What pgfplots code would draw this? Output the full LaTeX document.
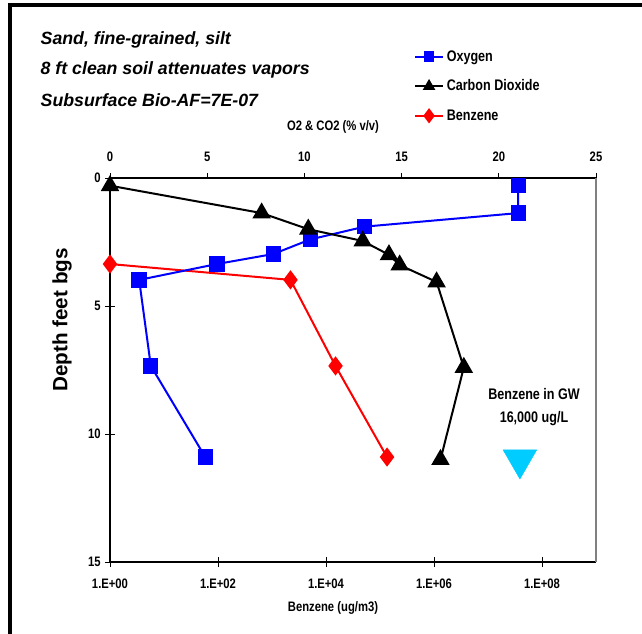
\documentclass[border=0pt]{standalone}
\usepackage{pgfplots}
\pgfplotsset{compat=1.18}
\usepackage{fontspec}
\setmainfont{Liberation Sans}
\newfontfamily\narrow[FakeStretch=0.82]{Liberation Sans}
\definecolor{gwcyan}{RGB}{0,204,255}
\begin{document}
\begin{tikzpicture}[x=0.75pt,y=-0.75pt]
\clip (0,0) rectangle (642,634);
\fill[white] (0,0) rectangle (642,634);
\coordinate (O) at (110,562);
% main axis: benzene (log, bottom)
\begin{axis}[
  at={(O)}, anchor=south west, scale only axis,
  width=364.5pt, height=288pt,
  xmode=log, xmin=1, xmax=1e9, ymin=0, ymax=15, y dir=reverse,
  xtick={1,1e2,1e4,1e6,1e8},
  xticklabels={1.E+00,1.E+02,1.E+04,1.E+06,1.E+08},
  minor xtick={}, ytick={0,5,10,15},
  axis x line*=bottom, axis y line*=left, axis line style={-, line width=0.8pt},
  tick align=center, major tick length=7pt, tick style={black, line width=0.6pt},
  ticklabel style={font=\narrow\bfseries\fontsize{10.3}{12}\selectfont},
  xticklabel style={yshift=-6pt},
  /pgf/number format/assume math mode=true,
  clip=false,
]
\addplot[red, line width=1.5pt, mark=diamond*, mark size=6pt, mark options={solid}]
  coordinates {(1,3.36) (2200,3.98) (15000,7.34) (135000,10.9)};
\addplot[only marks, mark=triangle*, mark size=14.5pt, color=gwcyan, mark options={rotate=180}]
  coordinates {(3.9e7,11.0)};
\end{axis}
% top axis: O2 & CO2
\begin{axis}[
  at={(O)}, anchor=south west, scale only axis,
  width=364.5pt, height=288pt,
  xmin=0, xmax=25, ymin=0, ymax=15, y dir=reverse,
  xtick={0,5,10,15,20,25},
  axis x line*=top, axis y line=none, axis line style={-, line width=0.8pt},
  tick align=outside, major tick length=3.5pt, tick style={black, line width=0.6pt},
  ticklabel style={font=\narrow\bfseries\fontsize{10.3}{12}\selectfont},
  xticklabel style={yshift=5pt},
  /pgf/number format/assume math mode=true,
  clip=false,
  legend style={at={(0.625,1.34)}, anchor=north west, draw=none, fill=none,
    font=\narrow\bfseries\fontsize{11.5}{13}\selectfont, row sep=8.5pt,
    inner xsep=0pt, inner ysep=0pt},
  legend cell align=left,
  legend image code/.code={\draw[mark repeat=2,mark phase=2,#1] plot coordinates {(0cm,0cm) (0.37cm,0cm) (0.74cm,0cm)};},
]
\addplot[blue, line width=1.5pt, mark=square*, mark size=5pt, mark options={solid},
  legend image post style={mark size=3.3pt}]
  coordinates {(21.0,0.3) (21.0,1.37) (13.1,1.9) (10.3,2.4) (8.4,2.97) (5.5,3.36) (1.5,3.98) (2.1,7.34) (4.9,10.9)};
\addlegendentry{Oxygen}
\addplot[black, line width=1.5pt, mark=triangle*, mark size=6.5pt, mark options={solid},
  legend image post style={mark size=4pt}]
  coordinates {(0,0.3) (7.8,1.37) (10.2,2.0) (13.0,2.46) (14.35,3.0) (14.9,3.4) (16.8,4.06) (18.2,7.4) (17.0,11.0)};
\addlegendentry{Carbon Dioxide}
\addlegendimage{red, line width=1.5pt, mark=diamond*, mark size=4.5pt}
\addlegendentry{Benzene}
\end{axis}
\draw[gray, line width=0.8pt] (596,178) -- (596,562);
\node[anchor=west, font=\bfseries\itshape\fontsize{13.3}{15}\selectfont] at (36,40) {Sand, fine-grained, silt};
\node[anchor=west, font=\bfseries\itshape\fontsize{13.3}{15}\selectfont] at (36,70) {8 ft clean soil attenuates vapors};
\node[anchor=west, font=\bfseries\itshape\fontsize{13.3}{15}\selectfont] at (36,100) {Subsurface Bio-AF=7E-07};
\node[font=\narrow\bfseries\fontsize{10.3}{12}\selectfont] at (333,127) {O2 \& CO2 (\% v/v)};
\node[font=\narrow\bfseries\fontsize{10.3}{12}\selectfont] at (333,608) {Benzene (ug/m3)};
\node[rotate=90, font=\bfseries\fontsize{15.5}{18}\selectfont] at (62,320) {Depth feet bgs};
\node[align=center, font=\narrow\bfseries\fontsize{11.5}{17}\selectfont] at (534,407) {Benzene in GW\\16,000 ug/L};
\draw[line width=2.3pt] (10,660) -- (10,5) -- (680,5);
\end{tikzpicture}
\end{document}
